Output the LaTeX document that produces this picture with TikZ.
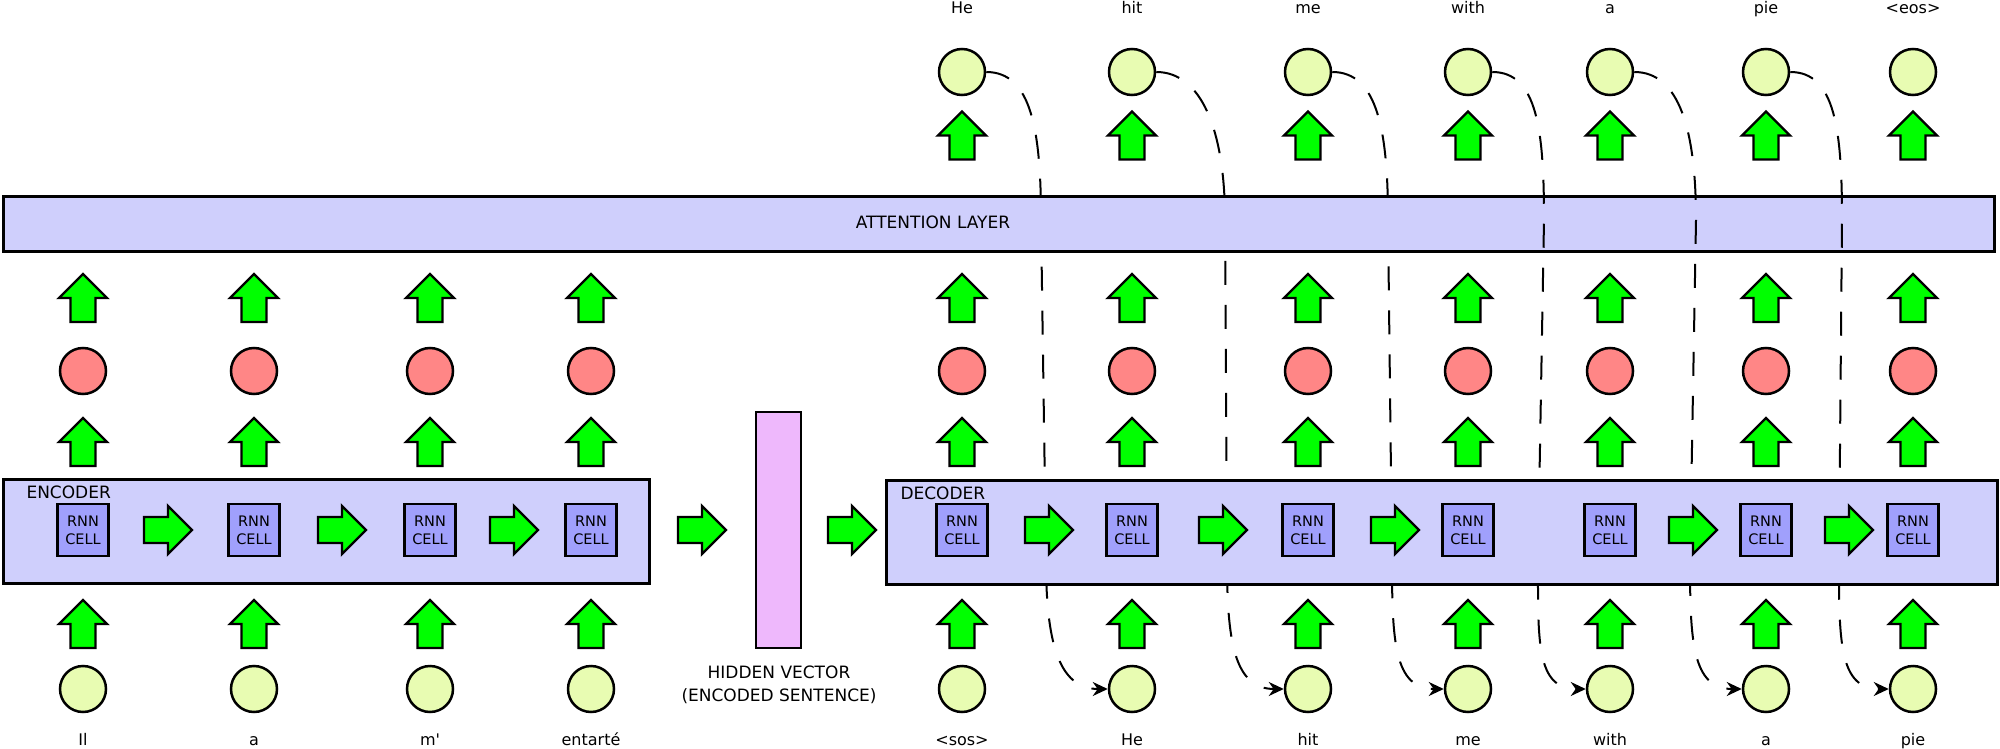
\documentclass[tikz,border=0pt]{standalone}
\usepackage{fontspec}
\setmainfont{DejaVu Sans}
\usetikzlibrary{arrows.meta}

\definecolor{boxblue}{RGB}{207,207,252}
\definecolor{cellblue}{RGB}{160,160,252}
\definecolor{wordgreen}{RGB}{232,252,178}
\definecolor{statered}{RGB}{255,134,134}
\definecolor{hidpink}{RGB}{238,184,252}
\definecolor{arrgreen}{RGB}{0,255,0}

\begin{document}
\begin{tikzpicture}[
		x=1pt,y=-1pt,
		word/.style={circle,draw,line width=2.5pt,fill=wordgreen,minimum size=46pt,inner sep=0pt},
		state/.style={word,fill=statered},
		cell/.style={draw,line width=2.5pt,fill=cellblue,minimum width=51pt,minimum height=52pt,inner sep=0pt,align=center,font=\fontsize{14.5}{18}\selectfont},
		layer/.style={draw,line width=2.5pt,fill=boxblue,inner sep=0pt,anchor=north west},
		tok/.style={anchor=base,font=\fontsize{16}{19}\selectfont},
		caps/.style={font=\fontsize{17}{21}\selectfont},
		feed/.style={line width=2pt,dash pattern=on 24pt off 20pt,-{Stealth[length=15pt,width=14pt]}},
		arrline/.style={draw,line width=2.3pt,fill=arrgreen,line join=miter},
		uparr/.pic={\path[arrline] (0,-24) -- (24,0) -- (12.5,0) -- (12.5,24) -- (-12.5,24) -- (-12.5,0) -- (-24,0) -- cycle;},
		rightarr/.pic={\path[arrline] (24,0) -- (0,-24) -- (0,-13) -- (-24,-13) -- (-24,13) -- (0,13) -- (0,24) -- cycle;},
]

\def\wordY{689}
\def\cellY{530}
\def\stateY{371}
\def\outY{72}

\useasboundingbox (0,0) rectangle (2000,749);

% encoder side
\node[layer,minimum width=646pt,minimum height=104pt] (encoder) at (2,478) {};
\node[caps,anchor=base west] (enclabel) at (23,498) {ENCODER};

\foreach \x/\w [count=\i] in {83/Il,254/a,430/m\textquotesingle,591/entarté} {
	\node[word] (ein\i) at (\x,\wordY) {};
	\node[tok] (eword\i) at (\x,745) {\w};
	\node[cell] (ecell\i) at (\x,\cellY) {RNN\\CELL};
	\node[state] (estate\i) at (\x,\stateY) {};
	\pic at (\x,624) {uparr};
	\pic at (\x,442) {uparr};
	\pic at (\x,298) {uparr};
}
\foreach \x in {168,342,514}
	\pic at (\x,\cellY) {rightarr};

% hidden vector
\pic at (702,\cellY) {rightarr};
\node[draw,line width=2.5pt,fill=hidpink,minimum width=45pt,minimum height=236pt,inner sep=0pt] (hidden) at (778.5,530) {};
\node[caps,anchor=base] (hid1) at (779,678) {HIDDEN VECTOR};
\node[caps,anchor=base] (hid2) at (779,701) {(ENCODED SENTENCE)};
\pic at (852,\cellY) {rightarr};

% decoder words
\foreach \x/\w/\o [count=\i] in {962/<sos>/He,1132/He/hit,1308/hit/me,1468/me/with,1610/with/a,1766/a/pie,1913/pie/<eos>} {
	\node[word] (din\i) at (\x,\wordY) {};
	\node[tok] (dword\i) at (\x,745) {\w};
	\node[state] (dstate\i) at (\x,\stateY) {};
	\node[word] (dout\i) at (\x,\outY) {};
	\node[tok] (oword\i) at (\x,14) {\o};
	\pic at (\x,624) {uparr};
	\pic at (\x,442) {uparr};
	\pic at (\x,298) {uparr};
	\pic at (\x,135.5) {uparr};
}

% feeding back the outputs
\foreach \i/\a/\b in {1/1041/1046,2/1225/1227,3/1388/1392} {
	\pgfmathtruncatemacro\j{\i+1}
	\draw[feed] (dout\i.east) .. controls +(45,0) and +(0,-90) .. (\a,220) -- (\b,560) .. controls +(0,80) and +(-50,0) .. (din\j.west);
}

\node[layer,minimum width=1991pt,minimum height=55pt] (attention) at (2,195) {};
\node[caps] (attlabel) at (933,222) {ATTENTION LAYER};

\foreach \i/\a/\b in {4/1544/1538,5/1696/1690,6/1842/1839} {
	\pgfmathtruncatemacro\j{\i+1}
	\draw[feed] (dout\i.east) .. controls +(45,0) and +(0,-90) .. (\a,220) -- (\b,560) .. controls +(0,80) and +(-50,0) .. (din\j.west);
}

% decoder
\node[layer,minimum width=1111pt,minimum height=104pt] (decoder) at (885,479) {};
\node[caps,anchor=base west] (declabel) at (897,499) {DECODER};
\foreach \x [count=\i] in {962,1132,1308,1468,1610,1766,1913}
	\node[cell] (dcell\i) at (\x,\cellY) {RNN\\CELL};
\foreach \x in {1049,1223,1395,1693,1849}
	\pic at (\x,\cellY) {rightarr};

\end{tikzpicture}
\end{document}
